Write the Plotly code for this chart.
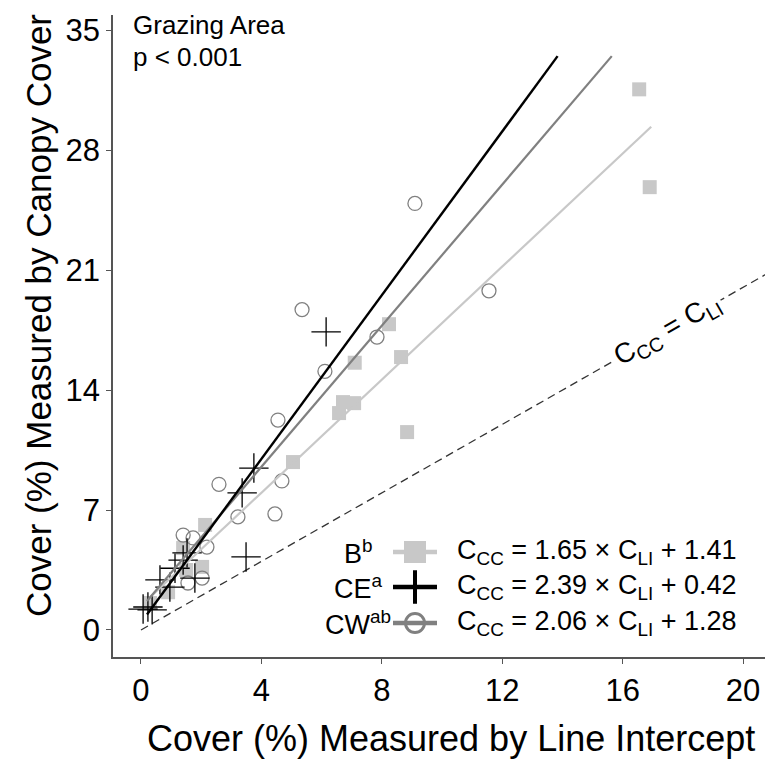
import plotly.graph_objects as go

# ---------------- data ----------------
# B (light grey squares)
b_x = [16.55, 16.9, 8.24, 8.64, 7.1, 6.71, 7.08, 6.58, 8.84, 5.05, 2.13, 1.4, 2.03, 0.9, 0.3, 1.5]
b_y = [31.56, 25.85, 17.85, 15.93, 15.6, 13.3, 13.24, 12.66, 11.55, 9.8, 6.13, 4.78, 3.68, 2.2, 1.57, 3.5]
# CE (black plus)
ce_x = [6.15, 3.75, 3.36, 3.49, 1.4, 1.13, 1.79, 0.63, 0.96, 0.23, 0.37, 0.07, 1.53]
ce_y = [17.4, 9.45, 8.0, 4.26, 4.08, 3.6, 3.03, 2.92, 2.5, 1.34, 1.17, 1.22, 4.5]
# CW (grey open circles)
cw_x = [9.1, 11.56, 5.35, 7.84, 6.11, 4.55, 2.59, 4.68, 3.22, 4.45, 1.4, 1.73, 2.19, 2.03, 1.56]
cw_y = [24.9, 19.8, 18.7, 17.1, 15.1, 12.25, 8.5, 8.7, 6.6, 6.77, 5.54, 5.37, 4.84, 3.03, 2.74]

# regression fits: slope, intercept, x-extent of fitted line
b_fit = (1.65, 1.41)
ce_fit = (2.39, 0.42)
cw_fit = (2.06, 1.28)
b_fit_x = [0.3, 16.95]
ce_fit_x = [0.2, 13.84]
cw_fit_x = [0.2, 15.64]

one_to_one_x = [0, 21]

x_ticks = [0, 4, 8, 12, 16, 20]
y_ticks = [0, 7, 14, 21, 28, 35]

groups = ["B<sup>b</sup>", "CE<sup>a</sup>", "CW<sup>ab</sup>"]
equations = [
    "C<sub>CC</sub> = 1.65 \u00d7 C<sub>LI</sub> + 1.41",
    "C<sub>CC</sub> = 2.39 \u00d7 C<sub>LI</sub> + 0.42",
    "C<sub>CC</sub> = 2.06 \u00d7 C<sub>LI</sub> + 1.28",
]

FONT = "Liberation Sans, Arial, sans-serif"
LGRAY = "#c8c8c8"
MGRAY = "#808080"

# plot-area geometry in page pixels (used for overlay / paper conversion)
PL, PR, PT, PB = 113, 765, 15, 657


def px_to_paper_x(px):
    return (px - PL) / (PR - PL)


def px_to_paper_y(py):
    return (PB - py) / (PB - PT)


fig = go.Figure()

# 1:1 line
fig.add_trace(go.Scatter(x=one_to_one_x, y=one_to_one_x, mode="lines",
                         line=dict(color="#333333", width=1.3, dash="8px,5px"),
                         hoverinfo="skip", showlegend=False))

# markers
fig.add_trace(go.Scatter(x=b_x, y=b_y, mode="markers",
                         marker=dict(symbol="square", size=14, color=LGRAY, line=dict(width=0)),
                         showlegend=False))
fig.add_trace(go.Scatter(x=cw_x, y=cw_y, mode="markers",
                         marker=dict(symbol="circle-open", size=14, color=MGRAY, line=dict(width=1.3, color=MGRAY)),
                         showlegend=False))
fig.add_trace(go.Scatter(x=ce_x, y=ce_y, mode="markers",
                         marker=dict(symbol="cross-thin", size=21, color="black", line=dict(width=1.3, color="black")),
                         showlegend=False))


# fitted lines
def fit_line(fit, xs):
    m, c = fit
    return [m * x + c for x in xs]


fig.add_trace(go.Scatter(x=b_fit_x, y=fit_line(b_fit, b_fit_x), mode="lines",
                         line=dict(color=LGRAY, width=2.2), showlegend=False))
fig.add_trace(go.Scatter(x=cw_fit_x, y=fit_line(cw_fit, cw_fit_x), mode="lines",
                         line=dict(color=MGRAY, width=2.2), showlegend=False))
fig.add_trace(go.Scatter(x=ce_fit_x, y=fit_line(ce_fit, ce_fit_x), mode="lines",
                         line=dict(color="black", width=2.4), showlegend=False))

# ---------------- legend keys on pixel overlay axes ----------------
rows_y = [552, 587, 623]
key_x = [393, 437]
key_styles = [
    dict(lc=LGRAY, sym="square", size=22, mc=LGRAY, mlw=0),
    dict(lc="black", sym="cross-thin", size=24, mc="black", mlw=4),
    dict(lc=MGRAY, sym="circle-open", size=19, mc=MGRAY, mlw=3),
]
for ry, st in zip(rows_y, key_styles):
    fig.add_trace(go.Scatter(x=key_x, y=[ry, ry], xaxis="x2", yaxis="y2", mode="lines",
                             line=dict(color=st["lc"], width=4.5), hoverinfo="skip", showlegend=False))
    fig.add_trace(go.Scatter(x=[sum(key_x) / 2], y=[ry], xaxis="x2", yaxis="y2", mode="markers",
                             marker=dict(symbol=st["sym"], size=st["size"], color=st["mc"],
                                         line=dict(width=st["mlw"], color=st["mc"])),
                             hoverinfo="skip", showlegend=False))

annotations = []
for ry, g, eq in zip(rows_y, groups, equations):
    annotations.append(dict(x=px_to_paper_x(358), y=px_to_paper_y(ry), xref="paper", yref="paper", text=g,
                            showarrow=False, xanchor="center", yanchor="middle",
                            font=dict(size=27, color="black", family=FONT)))
    annotations.append(dict(x=px_to_paper_x(455), y=px_to_paper_y(ry), xref="paper", yref="paper", text=eq,
                            showarrow=False, xanchor="left", yanchor="middle",
                            font=dict(size=27, color="black", family=FONT)))

annotations += [
    dict(x=px_to_paper_x(131), y=px_to_paper_y(25), xref="paper", yref="paper", text="Grazing Area",
         showarrow=False, xanchor="left", yanchor="middle", font=dict(size=26, color="black", family=FONT)),
    dict(x=px_to_paper_x(131), y=px_to_paper_y(57), xref="paper", yref="paper", text="p &lt; 0.001",
         showarrow=False, xanchor="left", yanchor="middle", font=dict(size=26, color="black", family=FONT)),
    dict(x=17.5, y=17.5, xref="x", yref="y", text="C<sub>CC</sub> = C<sub>LI</sub>", showarrow=False,
         textangle=-29.7, xanchor="center", yanchor="middle", bgcolor="white", borderpad=2,
         font=dict(size=28, color="black", family=FONT)),
    dict(x=px_to_paper_x(451), y=px_to_paper_y(739), xref="paper", yref="paper",
         text="Cover (%) Measured by Line Intercept", showarrow=False,
         xanchor="center", yanchor="middle", font=dict(size=36, color="black", family=FONT)),
    dict(x=px_to_paper_x(38), y=px_to_paper_y(316), xref="paper", yref="paper",
         text="Cover (%) Measured by Canopy Cover", showarrow=False,
         textangle=-90, xanchor="center", yanchor="middle", font=dict(size=35, color="black", family=FONT)),
]

fig.update_layout(
    width=765, height=765,
    margin=dict(l=PL, r=765 - PR, t=PT, b=765 - PB, autoexpand=False),
    paper_bgcolor="white", plot_bgcolor="white",
    font=dict(family=FONT, color="black"),
    showlegend=False,
    xaxis=dict(range=[-0.93, 20.73], tickvals=x_ticks, ticktext=[str(v) for v in x_ticks],
               showgrid=False, zeroline=False, showline=True, linecolor="#555555", linewidth=1.5,
               ticks="outside", ticklen=5, tickcolor="#555555", tickwidth=1, automargin=False,
               tickfont=dict(size=31, color="black", family=FONT)),
    yaxis=dict(range=[-1.58, 35.9], tickvals=y_ticks, ticktext=[str(v) for v in y_ticks],
               showgrid=False, zeroline=False, showline=True, linecolor="#555555", linewidth=1.5,
               ticks="outside", ticklen=5, tickcolor="#555555", tickwidth=1, automargin=False,
               tickfont=dict(size=31, color="black", family=FONT)),
    xaxis2=dict(range=[PL, PR], overlaying="x", visible=False, fixedrange=True),
    yaxis2=dict(range=[PB, PT], overlaying="y", visible=False, fixedrange=True),
    annotations=annotations,
)

fig.write_html("out.html", config={"displayModeBar": False},
               post_script="document.body.style.margin='0';document.body.style.overflow='hidden';")
